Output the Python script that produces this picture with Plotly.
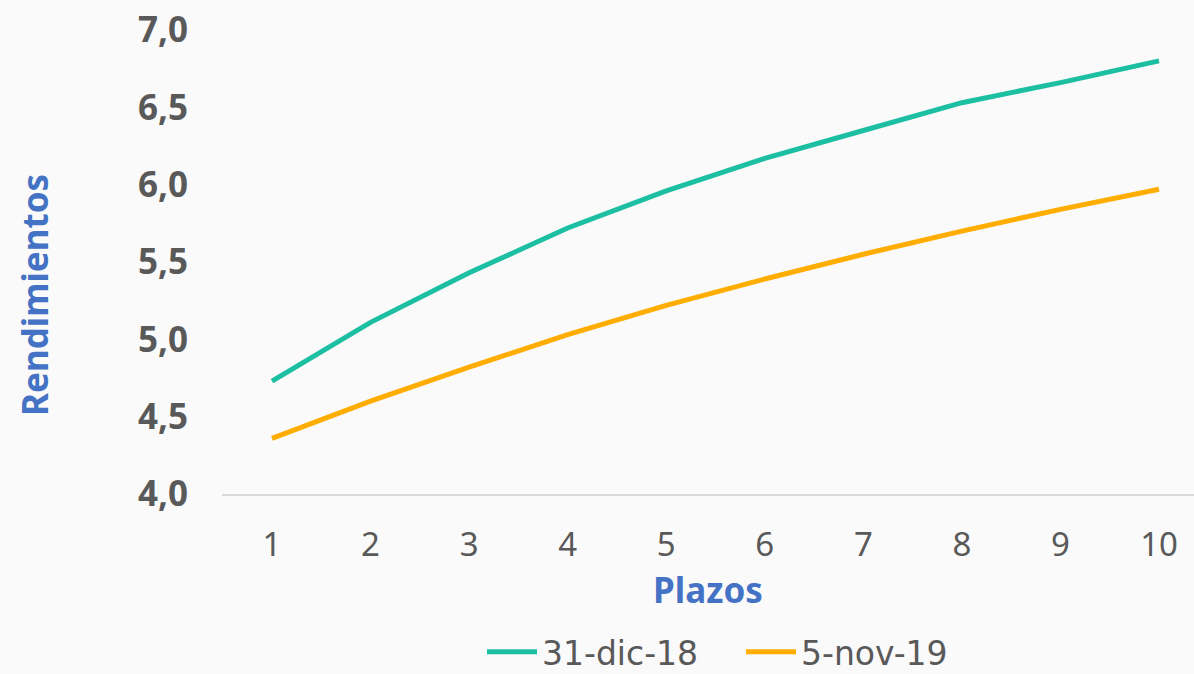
import plotly.graph_objects as go

plazos = [1, 2, 3, 4, 5, 6, 7, 8, 9, 10]
dic18 = [4.73, 5.11, 5.43, 5.72, 5.96, 6.17, 6.35, 6.53, 6.66, 6.80]
nov19 = [4.36, 4.60, 4.82, 5.03, 5.22, 5.39, 5.55, 5.70, 5.84, 5.97]
y_ticks = [4.0, 4.5, 5.0, 5.5, 6.0, 6.5, 7.0]
y_tick_labels = ["4,0", "4,5", "5,0", "5,5", "6,0", "6,5", "7,0"]

FONT = "Noto Sans"
fig = go.Figure()
fig.add_trace(go.Scatter(x=plazos, y=dic18, mode="lines", name="31-dic-18",
                         line=dict(color="#1DBFA3", width=5)))
fig.add_trace(go.Scatter(x=plazos, y=nov19, mode="lines", name="5-nov-19",
                         line=dict(color="#FFAD00", width=5)))

fig.update_layout(
    width=1194, height=674,
    paper_bgcolor="#FAFAFA", plot_bgcolor="#FAFAFA",
    margin=dict(l=222, r=0, t=30, b=180, autoexpand=False),
    font=dict(family=FONT, color="#595959"),
    showlegend=True,
    legend=dict(orientation="h", x=0.2675, xanchor="left",
                yref="container", y=0.033, yanchor="middle",
                font=dict(size=33, color="#595959", family="DejaVu Sans"),
                entrywidth=194, entrywidthmode="pixels",
                itemwidth=50, bgcolor="rgba(0,0,0,0)"),
    annotations=[dict(text="<b>Rendimientos</b>", textangle=-90,
                      xref="paper", yref="paper", x=-0.1924, y=0.429,
                      xanchor="center", yanchor="middle", showarrow=False,
                      font=dict(size=35, color="#4472C4", family=FONT))],
)
fig.update_xaxes(
    range=[0.4927, 10.355], tickmode="array", tickvals=plazos,
    ticktext=[str(p) for p in plazos],
    showgrid=False, zeroline=False,
    showline=True, linecolor="#D9D9D9", linewidth=2,
    ticks="outside", ticklen=20, tickcolor="rgba(0,0,0,0)",
    tickfont=dict(size=33, color="#595959", family=FONT),
    title=dict(text="<b>Plazos</b>", font=dict(size=35, color="#4472C4", family=FONT), standoff=11),
)
fig.update_yaxes(
    range=[4.0, 7.0], tickmode="array", tickvals=y_ticks, ticktext=y_tick_labels,
    showgrid=False, zeroline=False, showline=False,
    ticks="outside", ticklen=26, tickcolor="rgba(0,0,0,0)",
    ticklabeloverflow="allow",
    tickfont=dict(size=35, color="#595959", family=FONT, weight="bold"),
)

fig.write_html("out.html", config={"displayModeBar": False},
               post_script="document.body.style.margin='0';")
